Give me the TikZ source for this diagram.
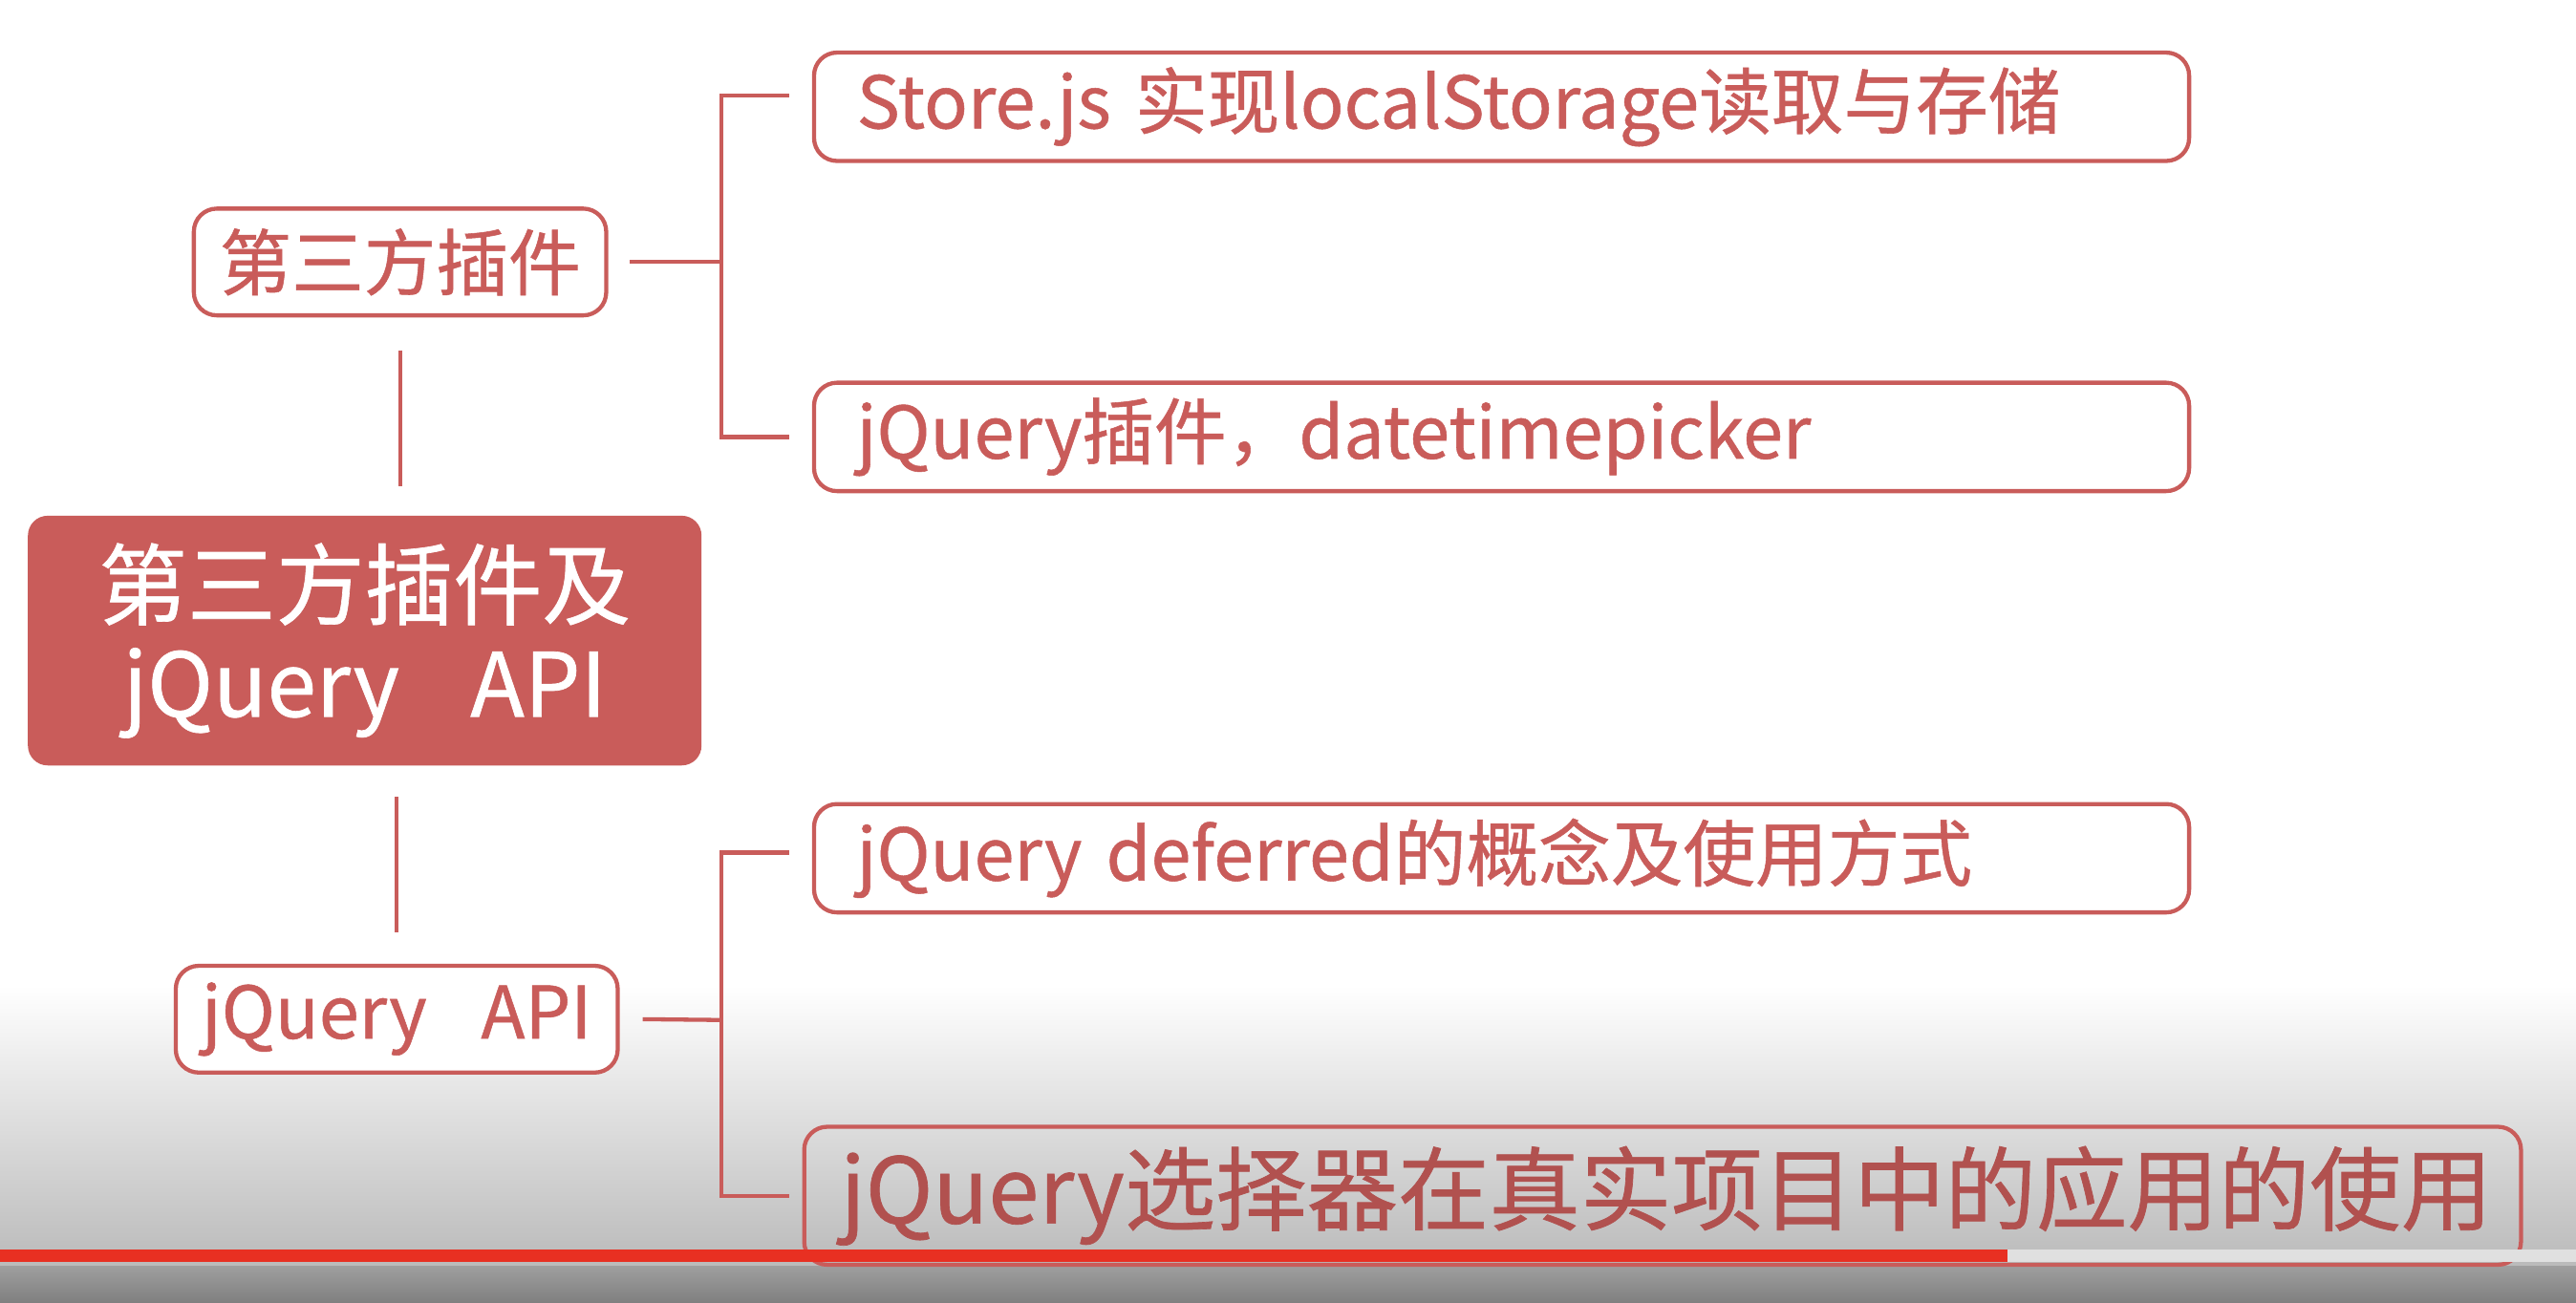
\documentclass[tikz,border=0pt]{standalone}
\usepackage{fontspec}
\setmainfont{Noto Sans CJK SC}[FakeBold=0.7]
\usetikzlibrary{positioning}
\definecolor{mapred}{RGB}{201,92,90}
\definecolor{barred}{RGB}{232,48,34}

\begin{document}
\begin{tikzpicture}[x=1pt, y=-1pt, node distance=201pt, on grid,
  leaf/.style={draw=mapred, line width=2.5pt, rounded corners=14pt, fill=white,
    text=mapred, inner xsep=26pt, inner ysep=0pt, minimum height=66pt,
    text width=785pt, align=left, font=\fontsize{44}{50}\selectfont},
  branch/.style={draw=mapred, line width=2.5pt, rounded corners=14pt, fill=white,
    text=mapred, inner sep=0pt, minimum height=65pt, font=\fontsize{44}{50}\selectfont},
  topic/.style={fill=mapred, rounded corners=12pt, text=white, align=center,
    minimum width=410pt, minimum height=152pt, font=\fontsize{54}{60}\selectfont},
  link/.style={draw=mapred, line width=2.5pt}]
  \useasboundingbox (0,0) rectangle (1568,793);

  % screen background and player shade
  \fill[white] (0,0) rectangle (1568,600);
  \shade[top color=white, bottom color=black!27] (0,600) rectangle (1568,771);
  \shade[top color=black!38, bottom color=black!50] (0,771) rectangle (1568,793);

  \node[topic] (main) at (222,390) {第三方插件及\\jQuery\hspace{0.8em}API};
  \node[branch, minimum width=251pt] (plugin) at (243.5,159.5) {第三方插件};
  \node[branch, minimum width=269pt] (api) at (241.5,620.5) {jQuery\hspace{0.75em}API};

  \node[leaf] (store) at (914,65) {Store.js 实现localStorage读取与存储};
  \node[leaf] (picker) [below=of store] {jQuery插件，datetimepicker};
  \node[leaf] (deferred) [below=256.5pt of picker] {jQuery deferred的概念及使用方式};
  \node[leaf, fill=none, text=mapred!88!black, minimum height=84pt, text width=1001pt,
    inner xsep=22pt, font=\fontsize{55.5}{62}\selectfont] (selector) at (1012,728)
    {jQuery选择器在真实项目中的应用的使用};

  \coordinate (jt) at (439,159.5);
  \coordinate (jb) at (439,621);

  \draw[link, shorten <=20pt, shorten >=18pt] (plugin.south) -- (plugin.south |- main.north);
  \draw[link, shorten <=19pt, shorten >=19pt] (api.north |- main.south) -- (api.north);

  \draw[link] ([xshift=13pt]plugin.east) -- (jt);
  \draw[link] ([xshift=-14pt,yshift=7pt]store.west) -| (jt) |- ([xshift=-14pt]picker.west);
  \draw[link] ([xshift=14pt]api.east) -- (jb);
  \draw[link] ([xshift=-14pt,yshift=3.5pt]deferred.west) -| (jb) |- ([xshift=-8pt]selector.west);

  % progress bar
  \fill[barred] (0,761) rectangle (1222,768);
  \fill[black!12] (1222,761) rectangle (1568,768);
\end{tikzpicture}
\end{document}
